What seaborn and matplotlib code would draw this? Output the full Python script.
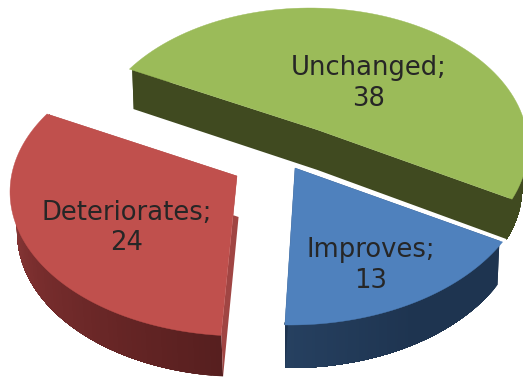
import numpy as np
import matplotlib
matplotlib.use('Agg')
import matplotlib.pyplot as plt
from matplotlib.patches import Polygon
import seaborn as sns

# data
labels = ['Unchanged', 'Improves', 'Deteriorates']
values = [38, 13, 24]

# look of each slice: apex, outer ellipse (cx, cy, rx, ry), depth, colours
apex = [(318, 130), (295, 168), (237, 176)]
ellipse = [(310, 147, 218, 139), (290, 170, 240, 155), (242, 192, 232, 144)]
skew = [0, 0, -0.035]
depth = [40, 43, 41]
top_col = ['#9BBB59', '#4F81BD', '#C0504D']
side_col = [['#404A20', '#404A20'], ['#1E3450', '#1E3450', '#264060'], ['#571F1F', '#7A2E2E', '#A04A48']]
cut_col = ['#404A20', '#1E3450', '#A04543']
text_pos = [(369, 83.5), (371, 265.5), (127, 228)]

START = 152.5
ASPECT = 0.62
VANISH_X = 300

sns.set_theme(style='white')
fig, ax = plt.subplots(figsize=(5.23, 3.77), dpi=100)
fig.subplots_adjust(0, 0, 1, 1)
ax.set_xlim(0, 523)
ax.set_ylim(377, 0)
ax.axis('off')


def outer_point(p, e, phi, sk):
    # where the ray from the apex hits the slice's ellipse
    dy = -np.sin(phi) * ASPECT
    dx = np.cos(phi) + sk * dy
    ox, oy = (p[0] - e[0]) / e[2], (p[1] - e[1]) / e[3]
    ux, uy = dx / e[2], dy / e[3]
    a = ux**2 + uy**2
    b = 2 * (ox * ux + oy * uy)
    c = ox**2 + oy**2 - 1
    t = (-b + np.sqrt(b**2 - 4 * a * c)) / (2 * a)
    return p[0] + t * dx, p[1] + t * dy


def lower(pt, d):
    return pt[0] + (VANISH_X - pt[0]) * 0.025, pt[1] + d


def inset(pt, p):
    # pull a point slightly towards the apex so the top face hides the join
    return p[0] + (pt[0] - p[0]) * 0.985, p[1] + (pt[1] - p[1]) * 0.985


angle = START
total = sum(values)
for i, v in enumerate(values):
    sweep = v / total * 360
    phis = np.radians(np.linspace(angle, angle - sweep, 90))
    arc = [outer_point(apex[i], ellipse[i], ph, skew[i]) for ph in phis]
    d = depth[i]

    # side of the slice, each step painted over the rest of the arc
    shades = sns.blend_palette(side_col[i], len(arc) - 1)
    for j in range(len(arc) - 1):
        rest = arc[j:]
        band = [inset(q, apex[i]) for q in rest] + [lower(q, d) for q in rest[::-1]]
        ax.add_patch(Polygon(band, closed=True, fc=shades[j], ec='none'))

    # cut faces
    band = [inset(arc[0], apex[i]), apex[i], inset(arc[-1], apex[i]),
            lower(arc[-1], d), lower(apex[i], d), lower(arc[0], d)]
    ax.add_patch(Polygon(band, closed=True, fc=cut_col[i], ec='none'))

    # top
    ax.add_patch(Polygon([apex[i]] + arc, closed=True, fc=top_col[i], ec=top_col[i], lw=0.3))

    ax.text(text_pos[i][0], text_pos[i][1], f'{labels[i]};\n{v}', ha='center', va='center',
            fontsize=18.6, color='#262626', linespacing=1.24, family='DejaVu Sans')
    angle -= sweep

fig.savefig('out.png', dpi=100)
